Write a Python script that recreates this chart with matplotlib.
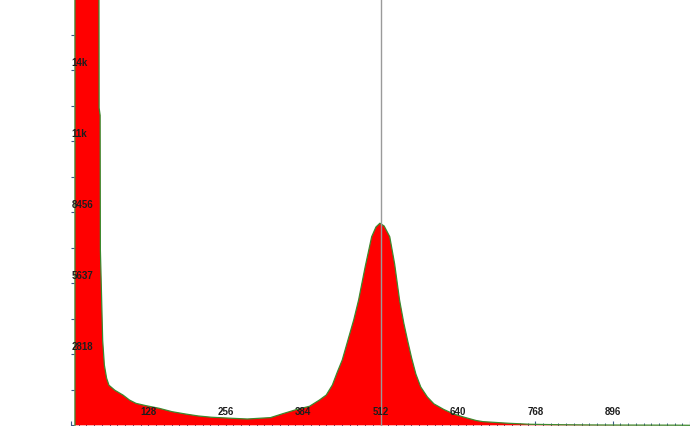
import matplotlib
matplotlib.use("Agg")
import matplotlib.pyplot as plt
import matplotlib.transforms as mtransforms
import numpy as np

# ---- data ----
bins = [6.5, 45.0, 46.5, 48.2, 48.6, 50.3, 52.4, 55.2, 58.9, 62.8, 72.6, 86.0,
        96.9, 107.6, 123.9, 145.7, 167.2, 188.9, 210.6, 232.2, 264.7, 291.8,
        330.0, 351.0, 373.0, 394.6, 410.8, 422.2, 432.4, 440.6, 448.7, 459.6,
        467.7, 475.8, 486.7, 497.4, 504.5, 511.0, 518.0, 527.3, 535.4, 543.5,
        550.5, 557.0, 563.5, 570.5, 578.6, 589.5, 600.4, 616.6, 632.9, 649.1,
        670.2, 681.5, 724.3, 760.0, 800.0, 850.0, 900.0, 1000.0, 1023.0]
counts = [40000, 40000, 12600, 12300, 6950, 5360, 3370, 2390, 1870, 1590, 1390, 1200,
          1000, 870, 780, 675, 540, 450, 370, 320, 280, 250,
          305, 465, 625, 755, 1000, 1200, 1600, 2115, 2590, 3505,
          4180, 4975, 6295, 7485, 7870, 8020, 7910, 7485, 6400, 4975,
          4060, 3345, 2670, 2035, 1520, 1125, 850, 630, 450, 330,
          190, 145, 80, 40, 25, 15, 10, 5, 0]

x_tick_values = [128, 256, 384, 512, 640, 768, 896]
x_tick_labels = ["128", "256", "384", "512", "640", "768", "896"]
y_tick_values = [2818, 5637, 8456, 11275, 14093]
y_tick_labels = ["2818", "5637", "8456", "11k", "14k"]
marker_x = 512

W, H = 690, 426
fig = plt.figure(figsize=(W / 100, H / 100), dpi=100)
ax = fig.add_axes([71 / W, 0, 1 - 71 / W, 1])
ax.set_xlim(6.5, 1011.7)
ax.set_ylim(-28, 16880)

ax.fill_between(bins, counts, 0, facecolor="#ff0000", edgecolor="none", zorder=2)
ax.plot([bins[0]] + bins, [0] + counts, color="#3c8a2e", lw=0.9, zorder=3)
ax.axvline(marker_x, color="#9a9a9a", lw=1.0, zorder=4)

for s in ax.spines.values():
    s.set_visible(False)

tick_col = "#3d5a8a"
ax.set_xticks(list(range(0, 1025, 128)))
ax.set_xticks(np.arange(0, 1024.1, 12.8), minor=True)
ax.set_yticks(np.arange(0, 16880, 1409), minor=False)
ax.tick_params(axis="x", which="major", direction="in", length=3.8, width=0.8,
               color=tick_col, labelbottom=False)
ax.tick_params(axis="x", which="minor", direction="in", length=2.2, width=0.7,
               color=tick_col)
ax.tick_params(axis="y", which="major", direction="in", length=2.0, width=0.8,
               color=tick_col, labelleft=False)

font = dict(family=["Liberation Sans", "DejaVu Sans"], fontsize=7,
            fontweight="bold", color="#1e1e1e", zorder=5)

tx = mtransforms.blended_transform_factory(ax.transData, ax.transAxes)
for v, lab in zip(x_tick_values, x_tick_labels):
    ax.text(v, 0.005, lab, transform=tx + mtransforms.ScaledTranslation(0, 7 / 100, fig.dpi_scale_trans),
            ha="center", va="bottom", **font)

ty = mtransforms.blended_transform_factory(ax.transAxes, ax.transData)
for v, lab in zip(y_tick_values, y_tick_labels):
    ax.text(0.001, v, lab, transform=ty + mtransforms.ScaledTranslation(0, 2 / 100, fig.dpi_scale_trans),
            ha="left", va="bottom", **font)

fig.savefig("out.png", dpi=100)
